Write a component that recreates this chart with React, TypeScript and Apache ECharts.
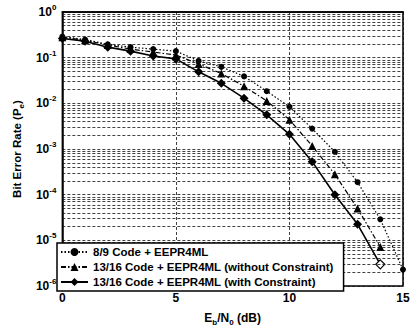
import React, { useEffect, useRef } from "react";
import * as echarts from "echarts";

const ebn0 = [0, 1, 2, 3, 4, 5, 6, 7, 8, 9, 10, 11, 12, 13, 14, 15];
const ber89 = [0.29, 0.25, 0.196, 0.17, 0.154, 0.139, 0.085, 0.063, 0.039, 0.0185, 0.0084, 0.0028, 8.7e-4, 1.88e-4, 2.9e-5, 2.3e-6];
const ber1316NoC = [0.28, 0.24, 0.19, 0.154, 0.133, 0.114, 0.073, 0.045, 0.0237, 0.0113, 0.0044, 0.00117, 2.8e-4, 5e-5, 7.2e-6];
const ber1316C = [0.264, 0.23, 0.17, 0.139, 0.109, 0.094, 0.049, 0.0275, 0.013, 0.0056, 0.0021, 5.3e-4, 1.0e-4, 2.25e-5, 3.0e-6];
const seriesNames = [
  "8/9 Code + EEPR4ML",
  "13/16 Code + EEPR4ML (without Constraint)",
  "13/16 Code + EEPR4ML (with Constraint)",
];
const decades = [-6, -5, -4, -3, -2, -1];
const minorSteps = [2, 3, 4, 5, 6, 7, 8, 9];

const FONT = "Liberation Sans, Arial, sans-serif";

export default function App() {
  const ref = useRef<HTMLDivElement>(null);
  useEffect(() => {
    document.body.style.margin = "0";
    if (!ref.current) return;
    const chart = echarts.init(ref.current, null, { renderer: "svg" });
    const minorLines: any[] = [];
    decades.forEach((d) =>
      minorSteps.forEach((k) => minorLines.push({ yAxis: d + Math.log10(k) }))
    );
    const pairs = (arr: number[]) => arr.map((v, i) => [ebn0[i], v]);
    const gridDash = { color: "#111", width: 0.8, type: [3, 2] as any };
    const sub = { fontFamily: FONT, fontWeight: "bold", fontSize: 8, color: "#000" };
    chart.setOption({
      animation: false,
      textStyle: { fontFamily: FONT },
      grid: {
        left: 57,
        right: 12,
        top: 12,
        bottom: 39,
        show: true,
        borderColor: "#000",
        borderWidth: 1.5,
        backgroundColor: "transparent",
      },
      legend: {
        orient: "vertical",
        left: 57,
        top: 243,
        padding: [3, 10, 3, 3],
        itemGap: 3,
        itemWidth: 27,
        itemHeight: 10,
        backgroundColor: "#fff",
        borderColor: "#000",
        borderWidth: 1.5,
        borderRadius: 0,
        textStyle: { fontFamily: FONT, fontWeight: "bold", fontSize: 11.5, color: "#000" },
        data: seriesNames,
        z: 10,
      },
      xAxis: {
        type: "value",
        min: 0,
        max: 15,
        interval: 5,
        axisLine: { show: true, lineStyle: { color: "#000", width: 1.5 } },
        axisTick: { show: false },
        axisLabel: { fontFamily: FONT, fontWeight: "bold", fontSize: 12, color: "#000", margin: 6 },
        splitLine: { show: true, lineStyle: gridDash },
        name: "E{s|b}/N{s|0} (dB)",
        nameLocation: "middle",
        nameGap: 15,
        nameTextStyle: {
          fontFamily: FONT,
          fontWeight: "bold",
          fontSize: 12,
          color: "#000",
          lineHeight: 17,
          rich: { s: { ...sub, verticalAlign: "bottom" } },
        },
      },
      yAxis: [
        {
          type: "log",
          logBase: 10,
          min: 1e-6,
          max: 1,
          interval: 1,
          axisLine: { show: true, lineStyle: { color: "#000", width: 1.5 } },
          axisTick: { show: false },
          axisLabel: {
            margin: 6,
            formatter: (v: number) => `{b|10}{s|${Math.round(Math.log10(v))}}`,
            rich: {
              b: { fontFamily: FONT, fontWeight: "bold", fontSize: 12, color: "#000", lineHeight: 17 },
              s: { ...sub, verticalAlign: "top" },
            },
          },
          splitLine: { show: true, lineStyle: gridDash },
          name: "Bit Error Rate (P{s|e})",
          nameLocation: "middle",
          nameGap: 35,
          nameTextStyle: {
            fontFamily: FONT,
            fontWeight: "bold",
            fontSize: 11.5,
            color: "#000",
            lineHeight: 17,
            rich: { s: { ...sub, verticalAlign: "bottom" } },
          },
        },
        {
          type: "value",
          min: -6,
          max: 0,
          show: false,
          splitLine: { show: false },
        },
      ],
      series: [
        {
          name: "minorGrid",
          type: "line",
          yAxisIndex: 1,
          data: [],
          silent: true,
          markLine: {
            silent: true,
            symbol: "none",
            label: { show: false },
            lineStyle: gridDash,
            animation: false,
            data: minorLines,
          },
          z: 1,
        },
        {
          name: seriesNames[0],
          type: "line",
          data: pairs(ber89),
          symbol: "circle",
          symbolSize: 6,
          lineStyle: { color: "#000", width: 1.2, type: [1.5, 2] },
          itemStyle: { color: "#000" },
          z: 3,
        },
        {
          name: seriesNames[1],
          type: "line",
          data: pairs(ber1316NoC),
          symbol: "triangle",
          symbolSize: 8,
          lineStyle: { color: "#000", width: 1.2, type: [5, 2, 1.5, 2] },
          itemStyle: { color: "#000" },
          z: 3,
        },
        {
          name: seriesNames[2],
          type: "line",
          data: pairs(ber1316C).map((p, i, a) =>
            i === a.length - 1
              ? { value: p, itemStyle: { color: "#fff", borderColor: "#000", borderWidth: 1.2 } }
              : p
          ),
          symbol: "diamond",
          symbolSize: 9,
          lineStyle: { color: "#000", width: 1.6, type: "solid" },
          itemStyle: { color: "#000" },
          z: 3,
        },
      ],
    });
    return () => chart.dispose();
  }, []);
  return (
    <div
      ref={ref}
      style={{ position: "fixed", left: 0, top: 0, width: 415, height: 331, background: "#fff" }}
    />
  );
}
